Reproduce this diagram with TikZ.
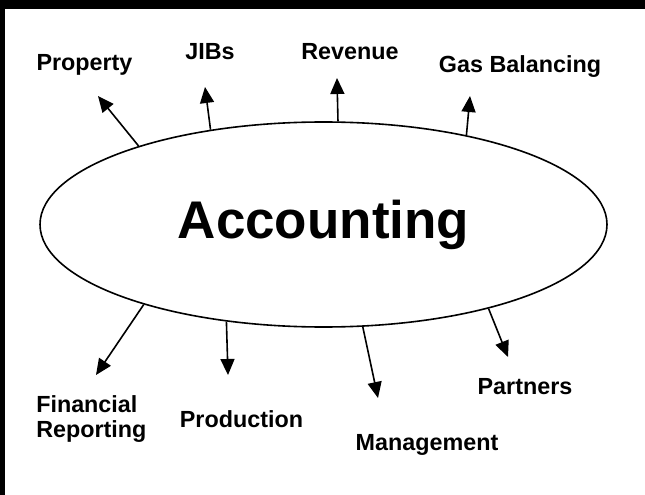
\documentclass[tikz,border=0pt]{standalone}
\usepackage{fontspec}
\setmainfont{Liberation Sans}
\usetikzlibrary{arrows.meta,shapes.geometric}
\tikzset{
  lbl/.style={inner sep=0pt, font=\fontsize{17.5pt}{18.75pt}\selectfont\bfseries},
  arr/.style={line width=1.2pt, -{Triangle[length=12pt,width=10.5pt]}},
  hub/.style={draw, ellipse, line width=1.2pt, inner sep=0pt,
    minimum width=425.25pt, minimum height=153.75pt,
    font=\fontsize{39.75pt}{42pt}\selectfont\bfseries}
}
\begin{document}
\begin{tikzpicture}[x=0.75pt,y=-0.75pt]
\useasboundingbox (0,0) rectangle (645,495);
\fill[white] (0,0) rectangle (645,495);
\fill[black] (0,0) rectangle (645,9);
\fill[black] (0,0) rectangle (4.5,495);

\node[hub] (acc) at (323.5,224.5) {Accounting};

% labels
\node[lbl, anchor=base] (prop) at (84.5,71) {Property};
\node[lbl, anchor=base] (jib) at (210,60) {JIBs};
\node[lbl, anchor=base] (rev) at (350,60) {Revenue};
\node[lbl, anchor=base] (gas) at (520,72.5) {Gas Balancing};
\node[lbl, anchor=north west, align=left] (fin) at (36,395) {Financial\\Reporting};
\node[lbl, anchor=base] (prod) at (241.5,427) {Production};
\node[lbl, anchor=base] (mgmt) at (427,450) {Management};
\node[lbl, anchor=base] (part) at (525,394) {Partners};

% arrow tips
\coordinate (tprop) at (98,96);
\coordinate (tjib) at (205,87);
\coordinate (trev) at (337,78);
\coordinate (tgas) at (470,96);
\coordinate (tfin) at (96,375);
\coordinate (tprod) at (228,375);
\coordinate (tmgmt) at (378,398);
\coordinate (tpart) at (508,357);

\draw[arr] (acc.157.6) -- (tprop);
\draw[arr] (acc.140) -- (tjib);
\draw[arr] (acc.82.5) -- (trev);
\draw[arr] (acc.32.9) -- (tgas);
\draw[arr] (acc.204.2) -- (tfin);
\draw[arr] (acc.225.6) -- (tprod);
\draw[arr] (acc.291.1) -- (tmgmt);
\draw[arr] (acc.333.1) -- (tpart);
\end{tikzpicture}
\end{document}
